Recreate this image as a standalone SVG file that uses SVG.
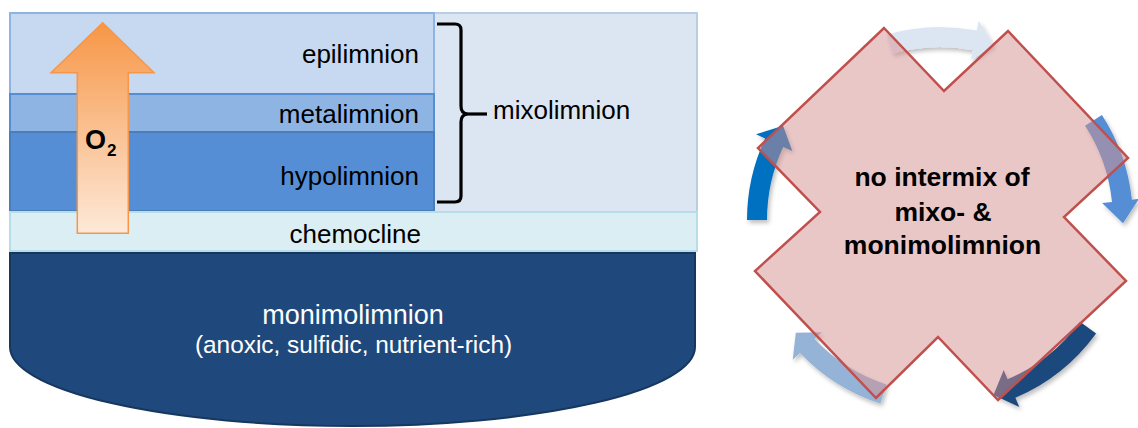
<svg xmlns="http://www.w3.org/2000/svg" width="1138" height="428" viewBox="0 0 1138 428">
  <defs>
    <linearGradient id="o2grad" x1="0" y1="0" x2="0" y2="1">
      <stop offset="0" stop-color="#f79646"/>
      <stop offset="1" stop-color="#fde9d9"/>
    </linearGradient>
    <filter id="shadow" x="-20%" y="-20%" width="140%" height="140%">
      <feDropShadow dx="2" dy="3" stdDeviation="2" flood-color="#000" flood-opacity="0.25"/>
    </filter>
    <style>
      .lbl { font-family: "Liberation Sans", Arial, sans-serif; font-size: 26px; fill: #000; }
      .end { text-anchor: end; }
      .wlbl { font-family: "Liberation Sans", Arial, sans-serif; fill: #fff; text-anchor: middle; }
      .bold { font-family: "Liberation Sans", Arial, sans-serif; font-weight: bold; fill: #000; }
      .layer { stroke-width: 2; }
      .arc { filter: url(#shadow); }
    </style>
  </defs>
  <rect width="1138" height="428" fill="#fff"/>

  <!-- Left: lake layers -->
  <g id="mixolimnion">
    <rect x="10" y="13" width="687" height="199" fill="#dce6f2" stroke="#b9cde5" class="layer"/>
    <text class="lbl" x="493" y="119">mixolimnion</text>
  </g>
  <g id="epilimnion">
    <rect x="10" y="13" width="424" height="81" fill="#c6d9f1" stroke="#8eb4e3" class="layer"/>
    <text class="lbl end" x="419" y="63">epilimnion</text>
  </g>
  <g id="metalimnion">
    <rect x="10" y="94" width="424" height="38" fill="#8eb4e3" stroke="#558ed5" class="layer"/>
    <text class="lbl end" x="419" y="123">metalimnion</text>
  </g>
  <g id="hypolimnion">
    <rect x="10" y="132" width="424" height="79" fill="#558ed5" stroke="#4a7ebb" class="layer"/>
    <text class="lbl end" x="419" y="185">hypolimnion</text>
  </g>
  <g id="chemocline">
    <rect x="10" y="212" width="687" height="39" fill="#dbeef4" stroke="#b7dee8" class="layer"/>
    <text class="lbl end" x="421" y="243">chemocline</text>
  </g>
  <g id="monimolimnion">
    <path d="M10,253 H695 V347 A342.5,79 0 0 1 10,347 Z" fill="#1f497d" stroke="#17375e" stroke-width="2"/>
    <text class="wlbl" x="353" y="324" font-size="27">monimolimnion</text>
    <text class="wlbl" x="353.5" y="353" font-size="24.4">(anoxic, sulfidic, nutrient-rich)</text>
  </g>
  <g id="o2-arrow">
    <path d="M102.7,22.7 L154,72.7 H128.3 V233.3 H77.3 V72.7 H51 Z" fill="url(#o2grad)" stroke="#f79646" stroke-width="1.5" stroke-linejoin="miter"/>
    <text class="bold" x="85" y="149" font-size="27">O</text>
    <text class="bold" x="107" y="156" font-size="17">2</text>
  </g>
  <g id="brace">
    <path d="M437,24 H455 Q461,24 461,30 V106 Q461,113 467,114 Q461,115 461,122 V196 Q461,202 455,202 H437" fill="none" stroke="#000" stroke-width="3.2"/>
    <line x1="465" y1="114" x2="487" y2="114" stroke="#000" stroke-width="3.2"/>
  </g>

  <!-- Right: cycle arrows -->
  <g id="connectors">
    <path class="arc" fill="#dce6f2" d="M886.8,34.5 A193,193 0 0 1 976.8,30.6 L978.7,20.7 L993.5,45 L971.1,60 L973,50.2 A173,173 0 0 0 892.3,53.7 Z"/>
    <path class="arc" fill="#558ed5" d="M1101.9,114.9 A193,193 0 0 1 1131.9,199.8 L1139,198.8 L1123,223.2 L1102.1,203 L1112,201.9 A173,173 0 0 0 1085.1,125.8 Z"/>
    <path class="arc" fill="#1f497d" d="M1096.1,333.4 A193,193 0 0 1 1015.4,397.7 L1019.3,406.9 L993.5,395 L1003.7,370 L1007.6,379.2 A173,173 0 0 0 1080,321.7 Z"/>
    <path class="arc" fill="#95b3d7" d="M880.4,403.6 A193,193 0 0 1 800,352.9 L792.7,359.7 L795.8,332.7 L821.8,332.2 L814.5,339.1 A173,173 0 0 0 886.5,384.5 Z"/>
    <path class="arc" fill="#0070c0" d="M747,220 A193,193 0 0 1 765.1,138.4 L756,134.2 L783.1,125.8 L792.3,151.1 L783.2,146.9 A173,173 0 0 0 767,220 Z"/>
  </g>

  <g id="no-intermix">
    <path d="M884,28 L944,91 L1008,31 L1128,158 L1064,217 L1126,281 L998,400 L938,337 L876,398 L755,271 L820,212 L758,148 Z" fill="#d68f8f" fill-opacity="0.5" stroke="#c0504d" stroke-width="2.5" stroke-linejoin="miter"/>
    <text class="bold" x="942" y="186" font-size="26.5" text-anchor="middle">no intermix of</text>
    <text class="bold" x="943" y="221" font-size="26.5" text-anchor="middle">mixo- &amp;</text>
    <text class="bold" x="942.5" y="254" font-size="26.5" text-anchor="middle">monimolimnion</text>
  </g>
</svg>
